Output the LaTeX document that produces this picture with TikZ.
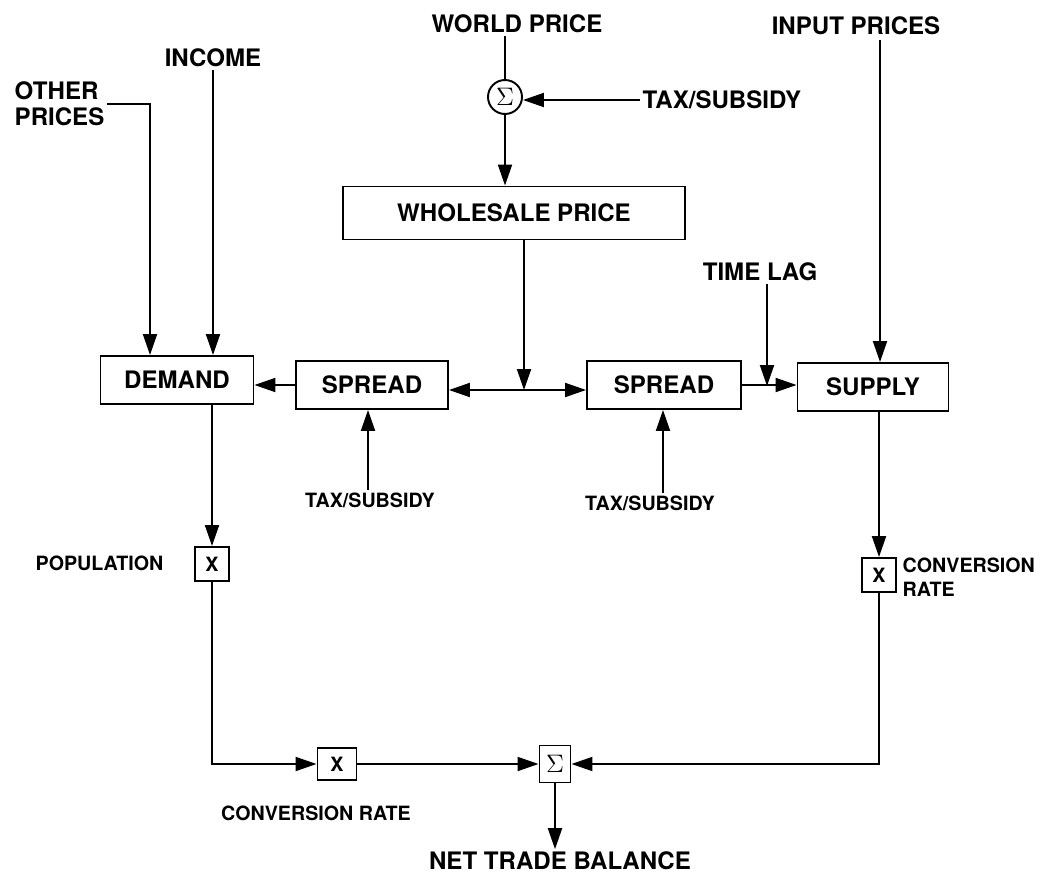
\documentclass[tikz,border=0pt]{standalone}
\usepackage{fontspec}
\setmainfont{TeX Gyre Heros}
\usetikzlibrary{arrows.meta}

\begin{document}
\begin{tikzpicture}[x=0.02cm, y=-0.02cm, line width=1.1pt,
    >={Triangle[length=0.42cm,width=0.28cm]},
    big/.style={font=\fontsize{13.7}{15}\selectfont\bfseries, inner sep=1pt},
    small/.style={font=\fontsize{11.2}{13.5}\selectfont\bfseries, inner sep=1pt},
    blk/.style={draw, big, minimum height=0.96cm},
    mult/.style={draw, small, minimum size=0.68cm, inner sep=0pt},
    sum/.style={draw, font=\fontsize{14}{14}\selectfont, inner sep=0pt}]
    \useasboundingbox (0,0) rectangle (1041,875);

    % inputs at the top
    \node[big] (world) at (517,24) {WORLD PRICE};
    \node[sum, circle, minimum size=0.68cm] (sigtop) at (505,97) {$\Sigma$};
    \node[big, anchor=west] (taxtop) at (640,100) {TAX/SUBSIDY};
    \node[big] (inputp) at (856,26) {INPUT PRICES};
    \node[big] (income) at (213,58) {INCOME};
    \node[big, anchor=west, align=left] (otherp) at (12,104) {OTHER\\PRICES};
    \node[blk, minimum width=6.84cm, minimum height=1.06cm] (whole) at (514,213) {WHOLESALE PRICE};
    \node[big] (timelag) at (760,272) {TIME LAG};

    % market row
    \node[blk, minimum width=3.06cm] (demand) at (177,380) {DEMAND};
    \node[blk, minimum width=3.04cm] (spreadL) at (372,385) {SPREAD};
    \node[blk, minimum width=3.08cm] (spreadR) at (664,385) {SPREAD};
    \node[blk, minimum width=3.02cm] (supply) at (873,387) {SUPPLY};
    \node[small] (taxL) at (370,500) {TAX/SUBSIDY};
    \node[small] (taxR) at (650,503) {TAX/SUBSIDY};

    % trade balance
    \node[mult] (xpop) at (212,564) {X};
    \node[small, anchor=east] (popl) at (166,563) {POPULATION};
    \node[mult] (xconv) at (879,575) {X};
    \node[small, anchor=west, align=left] (convr) at (900,577) {CONVERSION\\RATE};
    \node[mult, minimum width=0.78cm, minimum height=0.64cm] (xconv2) at (337,764) {X};
    \node[sum, minimum width=0.62cm, minimum height=0.74cm] (sigbot) at (555,764) {$\Sigma$};
    \node[small] (convl) at (316,813) {CONVERSION RATE};
    \node[big] (netbal) at (560,861) {NET TRADE BALANCE};

    \coordinate (jct) at (524,390);
    \coordinate (lagend) at (767,386);
    \coordinate (inarrow) at (880,40);

    \draw (sigtop |- world.south) -- (sigtop);
    \draw[->] (taxtop.west) -- (taxtop.west -| sigtop.east);
    \draw[->] (sigtop.south) -- (sigtop.south |- whole.north);
    \draw[->] (whole.south -| jct) -- (jct);
    \draw[<->] (spreadL.east |- jct) -- (spreadR.west |- jct);
    \draw[->] (spreadL.west) -- (spreadL.west -| demand.east);
    \draw[->] (spreadR.east) -- (spreadR.east -| supply.west);
    \draw[->] (timelag.south -| lagend) -- (lagend);
    \draw[->] (inarrow) -- (inarrow |- supply.north);
    \draw[->] (income.south) -- (income.south |- demand.north);
    \draw[->] (otherp.east) -| ([xshift=-0.54cm]demand.north);
    \draw[->] ([xshift=-0.04cm]taxL.north) -- ([xshift=-0.04cm]taxL.north |- spreadL.south);
    \draw[->] ([xshift=0.26cm]taxR.north) -- ([xshift=0.26cm]taxR.north |- spreadR.south);
    \draw[->] (xpop |- demand.south) -- (xpop.north);
    \draw[->] (xpop.south) |- (xconv2.west);
    \draw[->] (xconv2) -- (sigbot);
    \draw[->] (xconv |- supply.south) -- (xconv.north);
    \draw[->] (xconv.south) |- (sigbot.east);
    \draw[->] (sigbot.south) -- (sigbot.south |- netbal.north);
\end{tikzpicture}
\end{document}
